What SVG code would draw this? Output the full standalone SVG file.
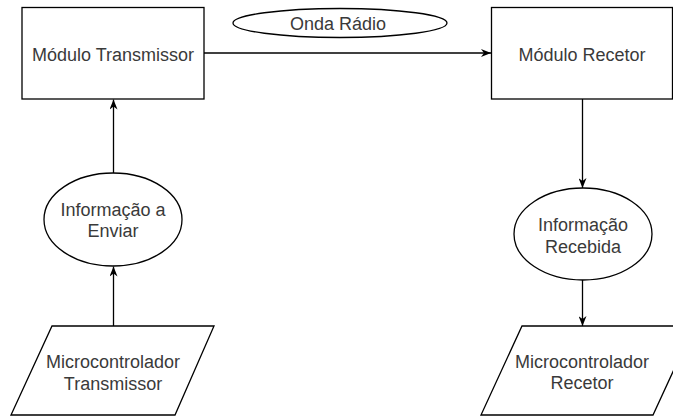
<svg xmlns="http://www.w3.org/2000/svg" width="673" height="416" viewBox="0 0 673 416">
  <style>
    .shape { fill: #ffffff; stroke: #000000; stroke-width: 1.3; }
    .edge { fill: none; stroke: #000000; stroke-width: 1.3; }
    .label { font-family: "Liberation Sans", Arial, sans-serif; font-size: 18px; fill: #3a3a3a; text-anchor: middle; }
  </style>
  <defs>
    <marker id="arrow" viewBox="0 0 10 8" refX="10" refY="4" markerWidth="10" markerHeight="8" markerUnits="userSpaceOnUse" orient="auto">
      <path d="M0,0 L10,4 L0,8 L3,4 Z" fill="#000000"/>
    </marker>
  </defs>
  <rect width="673" height="416" fill="#ffffff"/>

  <g id="connectors">
    <line class="edge" x1="204" y1="53" x2="491" y2="53" marker-end="url(#arrow)"/>
    <line class="edge" x1="113.5" y1="173" x2="113.5" y2="99.5" marker-end="url(#arrow)"/>
    <line class="edge" x1="113.5" y1="326" x2="113.5" y2="266.5" marker-end="url(#arrow)"/>
    <line class="edge" x1="582.5" y1="99" x2="582.5" y2="188" marker-end="url(#arrow)"/>
    <line class="edge" x1="582.5" y1="280" x2="582.5" y2="326" marker-end="url(#arrow)"/>
  </g>

  <g id="modulo-transmissor">
    <rect class="shape" x="22" y="7.5" width="182" height="91.5"/>
    <text class="label" x="113" y="61">Módulo Transmissor</text>
  </g>

  <g id="onda-radio">
    <ellipse class="shape" cx="340" cy="23" rx="107" ry="14.5"/>
    <text class="label" x="338" y="29.5">Onda Rádio</text>
  </g>

  <g id="modulo-recetor">
    <rect class="shape" x="491.5" y="7.5" width="181" height="91.5"/>
    <text class="label" x="582" y="61">Módulo Recetor</text>
  </g>

  <g id="informacao-enviar">
    <ellipse class="shape" cx="113" cy="219.5" rx="69" ry="46.5"/>
    <text class="label" x="113" y="216">Informação a</text>
    <text class="label" x="113" y="237">Enviar</text>
  </g>

  <g id="informacao-recebida">
    <ellipse class="shape" cx="583" cy="234" rx="69" ry="46"/>
    <text class="label" x="583" y="231">Informação</text>
    <text class="label" x="583" y="252.5">Recebida</text>
  </g>

  <g id="microcontrolador-transmissor">
    <polygon class="shape" points="52,326 214,326 175,415 11,415"/>
    <text class="label" x="113" y="368">Microcontrolador</text>
    <text class="label" x="113" y="389.5">Transmissor</text>
  </g>

  <g id="microcontrolador-recetor">
    <polygon class="shape" points="522,326 694,326 653,415 481,415"/>
    <text class="label" x="582" y="367.5">Microcontrolador</text>
    <text class="label" x="582" y="388.5">Recetor</text>
  </g>
</svg>
